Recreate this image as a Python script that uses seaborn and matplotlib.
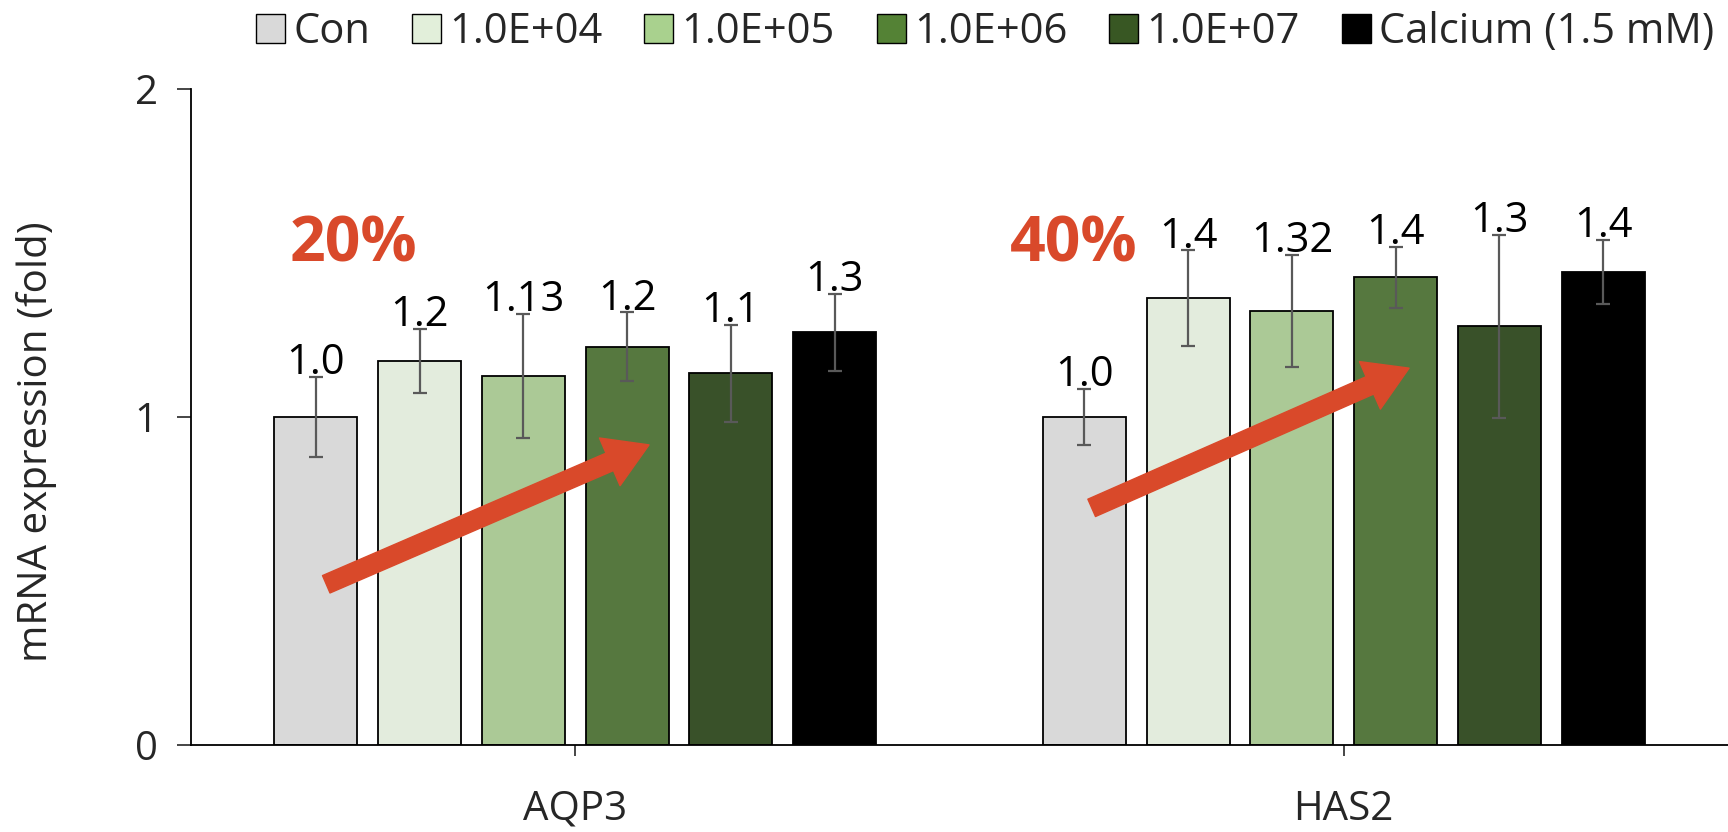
import matplotlib
matplotlib.use("Agg")
import matplotlib.pyplot as plt
from matplotlib.patches import Patch
import numpy as np
import pandas as pd
import seaborn as sns

# data
genes = ["AQP3", "HAS2"]
treatments = ["Con", "1.0E+04", "1.0E+05", "1.0E+06", "1.0E+07", "Calcium (1.5 mM)"]
aqp3_mean = [1.00, 1.17, 1.125, 1.214, 1.133, 1.258]
aqp3_err = [0.123, 0.098, 0.19, 0.105, 0.148, 0.118]
has2_mean = [1.00, 1.362, 1.323, 1.426, 1.277, 1.443]
has2_err = [0.086, 0.146, 0.172, 0.093, 0.279, 0.098]
aqp3_labels = ["1.0", "1.2", "1.13", "1.2", "1.1", "1.3"]
has2_labels = ["1.0", "1.4", "1.32", "1.4", "1.3", "1.4"]
# annotations, x given relative to the gene's group centre
percent_labels = ["20%", "40%"]
percent_pos = [(-0.288, 1.525), (-0.352, 1.525)]
arrow_tail = [(-0.324, 0.49), (-0.328, 0.723)]
arrow_head = [(0.096, 0.915), (0.085, 1.149)]

colors = ["#D9D9D9", "#E2EFDA", "#A9D18E", "#548235", "#385723", "#000000"]
red = "#D9492A"

df = pd.DataFrame({
    "gene": np.repeat(genes, len(treatments)),
    "treatment": treatments * len(genes),
    "value": aqp3_mean + has2_mean,
    "err": aqp3_err + has2_err,
    "label": aqp3_labels + has2_labels,
})

sns.set_style("white")
plt.rcParams["font.family"] = ["Open Sans", "DejaVu Sans"]

fig = plt.figure(figsize=(17.28, 8.32), dpi=100)
ax = fig.add_axes([191 / 1728, 1 - 745 / 832, 1 - 191 / 1728, (745 - 89) / 832])

sns.barplot(data=df, x="gene", y="value", hue="treatment", hue_order=treatments,
            palette=colors, edgecolor="black", linewidth=1.3, width=0.81, gap=0.2,
            errorbar=None, ax=ax)
ax.get_legend().remove()

bar_conts = list(ax.containers)
for i, cont in enumerate(bar_conts):
    for j, bar in enumerate(cont):
        row = df[(df.gene == genes[j]) & (df.treatment == treatments[i])].iloc[0]
        cx = bar.get_x() + bar.get_width() / 2
        ax.errorbar(cx, row.value, yerr=row.err, fmt="none", ecolor="#595959",
                    elinewidth=1.6, capsize=5, capthick=1.6, zorder=3)
        ax.annotate(row.label, (cx, row.value + row.err), xytext=(0, 2),
                    textcoords="offset points", ha="center", va="baseline",
                    fontsize=30, color="black")

for g, (txt, pos) in enumerate(zip(percent_labels, percent_pos)):
    ax.text(g + pos[0], pos[1], txt, ha="center", va="center", fontsize=45,
            fontweight="bold", color=red)

for g, (t, h) in enumerate(zip(arrow_tail, arrow_head)):
    ax.annotate("", xy=(g + h[0], h[1]), xytext=(g + t[0], t[1]),
                arrowprops=dict(arrowstyle="simple,head_length=1.4,head_width=1.7,tail_width=0.62",
                                mutation_scale=22, color=red, shrinkA=0, shrinkB=0),
                zorder=5)

ax.set_xlim(-0.5, 1.5)
ax.set_ylim(0, 2)
ax.set_yticks([0, 1, 2])
ax.set_yticklabels(["0", "1", "2"])
ax.set_xlabel("")
ax.set_ylabel("mRNA expression (fold)", fontsize=29)
ax.yaxis.set_label_coords(-0.087, 0.463)
ax.tick_params(axis="y", labelsize=29, length=10, width=1.2, direction="out", pad=14, left=True)
ax.tick_params(axis="x", labelsize=29, length=8, width=1.2, direction="out", pad=24, bottom=True)
for s in ["top", "right"]:
    ax.spines[s].set_visible(False)
for s in ["left", "bottom"]:
    ax.spines[s].set_color("black")
    ax.spines[s].set_linewidth(1.3)

handles = [Patch(facecolor=c, edgecolor="black", linewidth=1.0) for c in colors]
fig.legend(handles, treatments, loc="center", bbox_to_anchor=(985 / 1728, 0.961), ncol=6,
           frameon=False, fontsize=30, handlelength=0.7, handleheight=0.7,
           handletextpad=0.2, columnspacing=1.0)

fig.savefig("out.png", dpi=100)
